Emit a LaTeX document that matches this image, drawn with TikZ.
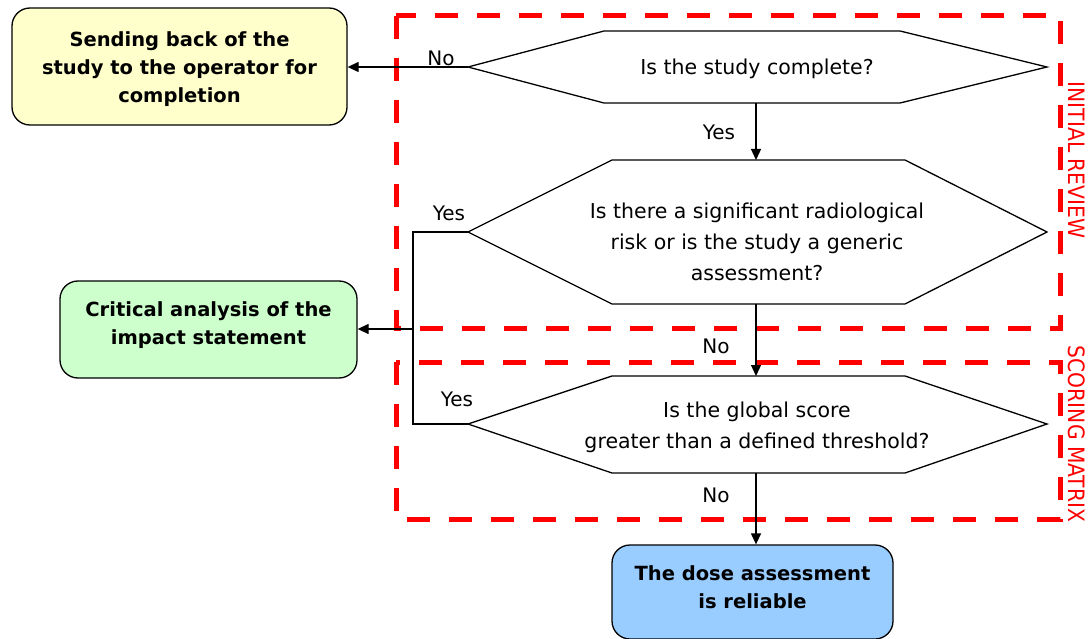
\documentclass[tikz,border=0pt]{standalone}
\usepackage{fontspec}
\setmainfont{DejaVu Sans}
\newfontfamily\condfont{DejaVu Sans Condensed}
\usetikzlibrary{arrows.meta}
\definecolor{boxyellow}{HTML}{FFFFCC}
\definecolor{boxgreen}{HTML}{CCFFCC}
\definecolor{boxblue}{HTML}{99CCFF}
\definecolor{zonered}{HTML}{FF0000}
\tikzset{
  endbox/.style={draw=black, line width=1.3pt, rounded corners=18pt, inner sep=0pt},
  endtext/.style={align=center, font=\fontsize{19.5}{28}\selectfont\bfseries, inner sep=0pt},
  hexa/.style={draw=black, line width=1.3pt},
  qtext/.style={align=center, font=\fontsize{20.5}{31}\selectfont},
  lbl/.style={font=\fontsize{20}{22}\selectfont, inner sep=0pt},
  flow/.style={draw=black, line width=1.3pt, -{Triangle[length=11pt,width=10pt]}},
  flowline/.style={draw=black, line width=1.3pt},
  zone/.style={draw=zonered, line width=5pt, dash pattern=on 23pt off 19pt},
  zonelbl/.style={text=zonered, font=\condfont\fontsize{22.5}{24}\selectfont, rotate=-90, inner sep=0pt}
}
\begin{document}
\begin{tikzpicture}[x=1pt,y=-1pt]
\useasboundingbox (0,0) rectangle (1091,639);
% zones
\draw[zone] (396,16) rectangle (1060,328);
\draw[zone] (396,362) rectangle (1060,519);
\node[zonelbl] (zl1) at (1077,160) {INITIAL REVIEW};
\node[zonelbl] (zl2) at (1077,434) {SCORING MATRIX};
% end boxes
\node[endbox, fill=boxyellow, minimum width=335pt, minimum height=117pt] (send) at (179.5,66.5) {};
\node[endtext] (sendtxt) at ([yshift=-2.5pt]send.center)
  {Sending back of the\\study to the operator for\\completion};
\node[endbox, fill=boxgreen, minimum width=297pt, minimum height=97pt] (crit) at (208.5,329.5) {};
\node[endtext] (crittxt) at ([yshift=4.5pt]crit.center)
  {Critical analysis of the\\impact statement};
\node[endbox, fill=boxblue, minimum width=281pt, minimum height=94pt] (dose) at (752.5,592) {};
\node[endtext] (dosetxt) at ([yshift=5pt]dose.center)
  {The dose assessment\\is reliable};
% decision 1
\coordinate (d1l) at (468,67);
\coordinate (d1r) at (1047,67);
\draw[hexa] (d1l) -- (604,31) -- (900,31) -- (d1r) -- (900,103) -- (604,103) -- cycle;
\node[qtext] (q1) at (757,68.5) {Is the study complete?};
\coordinate (d1b) at (756,103);
% decision 2
\coordinate (d2l) at (468,232);
\coordinate (d2r) at (1047,232);
\draw[hexa] (d2l) -- (612,160) -- (905,160) -- (d2r) -- (905,304) -- (612,304) -- cycle;
\node[qtext] (q2) at (757,241.5) {Is there a significant radiological\\risk or is the study a generic\\assessment?};
\coordinate (d2t) at (756,160);
\coordinate (d2b) at (756,304);
% decision 3
\coordinate (d3l) at (468,424);
\coordinate (d3r) at (1047,424);
\draw[hexa] (d3l) -- (612,376) -- (905,376) -- (d3r) -- (905,473) -- (612,473) -- cycle;
\node[qtext] (q3) at (757,427.5) {Is the global score\\greater than a defined threshold?};
\coordinate (d3t) at (756,376);
\coordinate (d3b) at (756,473);
% connectors
\draw[flow] (d1l) -- (d1l -| send.east);
\node[lbl] (no1) at (441,58) {No};
\draw[flow] (d1b) -- (d2t);
\node[lbl] (yes1) at (719,132) {Yes};
\draw[flow] (d2b) -- (d3t);
\node[lbl] (no2) at (716,346) {No};
\draw[flow] (d3b) -- (d3b |- dose.north);
\node[lbl] (no3) at (716,495) {No};
\coordinate (j1) at (413,232);
\coordinate (j2) at (413,329);
\coordinate (j3) at (413,424);
\draw[flowline] (d2l) -- (j1) -- (j2);
\draw[flowline] (d3l) -- (j3) -- (j2);
\draw[flow] (j2) -- (j2 -| crit.east);
\node[lbl] (yes2) at (449,213) {Yes};
\node[lbl] (yes3) at (457,399) {Yes};
\end{tikzpicture}
\end{document}
